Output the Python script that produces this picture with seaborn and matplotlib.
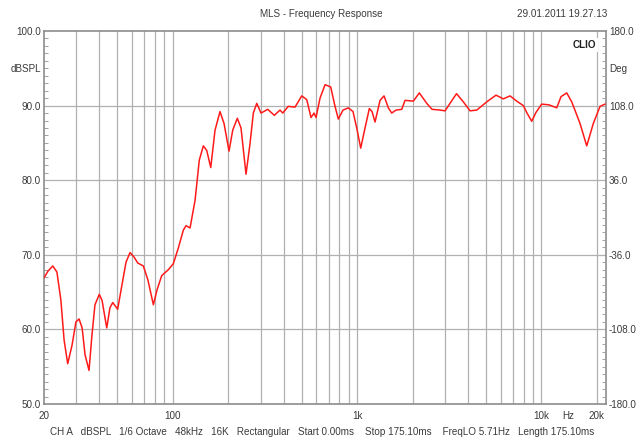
import numpy as np
import pandas as pd
import seaborn as sns
import matplotlib.pyplot as plt
from matplotlib.ticker import FixedLocator, MultipleLocator, NullFormatter

# frequency response (Hz, dBSPL)
freq_hz = [20.0, 21.0, 22.3, 23.5, 24.7, 25.7, 26.9, 28.4, 29.8, 31.0, 32.2, 33.4,
           35.1, 36.4, 37.8, 39.9, 41.3, 43.8, 45.6, 47.2, 50.2, 53.0, 55.7, 58.6,
           61.6, 64.5, 69.2, 73.3, 78.4, 82.1, 87.0, 94.5, 100.6, 107.1, 114.0,
           117.9, 124.0, 132.0, 139.2, 146.4, 152.7, 160.6, 169.4, 180.3, 189.6,
           201.8, 211.3, 223.8, 234.4, 249.5, 262.3, 273.4, 285.3, 301.0, 327.2,
           355.3, 381.6, 394.7, 423.2, 460.3, 500.5, 532.7, 562.1, 583.6, 598.3,
           629.0, 669.6, 718.9, 758.6, 790.6, 838.3, 895.5, 949.7, 994.8, 1045.6,
           1103.6, 1164.5, 1204.5, 1250.5, 1331.1, 1399.3, 1476.5, 1540.5, 1625.5,
           1745.7, 1819.2, 2017.6, 2175, 2385.5, 2549.6, 2816.4, 2999.8, 3151,
           3461, 3769, 4098, 4456, 5049, 5670, 6211, 6752, 7343, 7974, 8351, 8856,
           9346, 10035, 10993, 12104, 12770, 13713, 14600, 16195, 17607, 19114,
           20796, 22130]
spl_db = [66.9, 67.8, 68.5, 67.7, 63.9, 58.6, 55.4, 57.9, 61.0, 61.4, 60.2, 56.6,
          54.5, 59.2, 63.3, 64.7, 63.9, 60.2, 62.9, 63.6, 62.7, 66.0, 69.0, 70.3,
          69.7, 68.9, 68.5, 66.6, 63.3, 65.3, 67.2, 68.0, 68.8, 70.9, 73.3,
          73.9, 73.6, 77.3, 82.7, 84.6, 84.0, 81.7, 86.7, 89.2, 87.6,
          83.9, 86.7, 88.3, 87.0, 80.8, 84.9, 89.0, 90.3, 89.0, 89.5,
          88.7, 89.4, 89.0, 89.9, 89.8, 91.3, 90.8, 88.4, 89.0, 88.4,
          91.0, 92.8, 92.5, 89.9, 88.2, 89.4, 89.7, 89.2, 87.0, 84.3,
          87.0, 89.6, 89.2, 87.8, 90.7, 91.3, 89.7, 89.0, 89.4,
          89.5, 90.7, 90.6, 91.7, 90.3, 89.5, 89.4, 89.3, 90.1,
          91.6, 90.5, 89.3, 89.4, 90.5, 91.4, 90.9, 91.3, 90.6, 90.0, 89.0, 87.9,
          89.1, 90.2, 90.1, 89.7, 91.2, 91.7, 90.5, 87.6, 84.6, 87.6,
          89.9, 90.2]

x_grid = [30, 40, 50, 60, 70, 80, 90, 100, 200, 300, 400, 500, 600, 700, 800, 900,
          1000, 2000, 3000, 4000, 5000, 6000, 7000, 8000, 9000, 10000, 20000]
x_ticks = [20, 100, 1000, 10000, 20000]
x_labels = ["20", "100", "1k", "10k", "20k"]
left_ticks = [50, 60, 70, 80, 90, 100]
right_ticks = [-180, -108, -36, 36, 108, 180]

df = pd.DataFrame({"freq": freq_hz, "spl": spl_db})

sns.set_theme(style="white")
plt.rcParams["font.family"] = ["Liberation Sans", "DejaVu Sans"]
txt = "#3a3a3a"
gridc = "#b0b0b0"
fs = 7.1

fig = plt.figure(figsize=(6.41, 4.43), dpi=100)
ax = fig.add_axes([44 / 641, 1 - 404 / 443, 562 / 641, 373 / 443])

ax.set_xscale("log")
ax.set_xlim(20, 22400)
ax.set_ylim(50, 100)

# grid
for f in x_grid:
    ax.axvline(f, color=gridc, lw=0.9, zorder=1)
for v in [60, 70, 80, 90]:
    ax.axhline(v, color=gridc, lw=0.9, zorder=1)

sns.lineplot(data=df, x="freq", y="spl", ax=ax, color="#ff1a1a", lw=1.1,
             zorder=3, legend=False)

ax.set_xlabel("")
ax.set_ylabel("")
ax.xaxis.set_major_locator(FixedLocator(x_ticks))
ax.xaxis.set_minor_locator(FixedLocator([]))
ax.xaxis.set_minor_formatter(NullFormatter())
ax.set_xticklabels(x_labels)
ax.set_yticks(left_ticks)
ax.set_yticklabels([f"{v:.1f}" for v in left_ticks])
ax.yaxis.set_minor_locator(MultipleLocator(1))
ax.tick_params(axis="x", which="both", length=0, pad=5, labelsize=fs, colors=txt)
ax.tick_params(axis="y", which="major", length=0, pad=2, labelsize=fs, colors=txt)
ax.tick_params(axis="y", which="minor", direction="in", length=3, width=0.7,
               color="#a0a0a0", left=True)

for s in ax.spines.values():
    s.set_color("#8c8c8c")
    s.set_linewidth(1.2)

ax2 = ax.twinx()
ax2.set_ylim(-180, 180)
ax2.set_yticks(right_ticks)
ax2.set_yticklabels([f"{v:.1f}" for v in right_ticks])
ax2.yaxis.set_minor_locator(MultipleLocator(7.2))
ax2.tick_params(axis="y", which="major", length=0, pad=2, labelsize=fs, colors=txt)
ax2.tick_params(axis="y", which="minor", direction="in", length=3, width=0.7,
                color="#a0a0a0", right=True)
for s in ax2.spines.values():
    s.set_visible(False)

# axis unit labels
ax.text(-0.006, 94.9, "dBSPL", transform=ax.get_yaxis_transform(), ha="right",
        va="center", fontsize=fs, color=txt)
ax.text(1.006, 94.9, "Deg", transform=ax.get_yaxis_transform(), ha="left",
        va="center", fontsize=fs, color=txt)
ax.text(14000, -0.0185, "Hz", transform=ax.get_xaxis_transform(), ha="center",
        va="top", fontsize=fs, color=txt)
ax.text(0.982, 0.975, "CLIO", transform=ax.transAxes, ha="right", va="top",
        fontsize=fs, fontweight="bold", color="#222222",
        bbox=dict(facecolor="white", edgecolor="none", pad=1.5), zorder=5)

fig.text(321 / 641, 1 - 14 / 443, "MLS - Frequency Response", ha="center",
         va="center", fontsize=fs, color=txt)
fig.text(607 / 641, 1 - 14 / 443, "29.01.2011 19.27.13", ha="right",
         va="center", fontsize=fs, color=txt)
fig.text(322 / 641, 1 - 432 / 443,
         "CH A   dBSPL   1/6 Octave   48kHz   16K   Rectangular   Start 0.00ms"
         "    Stop 175.10ms    FreqLO 5.71Hz   Length 175.10ms",
         ha="center", va="center", fontsize=fs, color=txt)

fig.savefig("out.png", dpi=100, facecolor="white")
